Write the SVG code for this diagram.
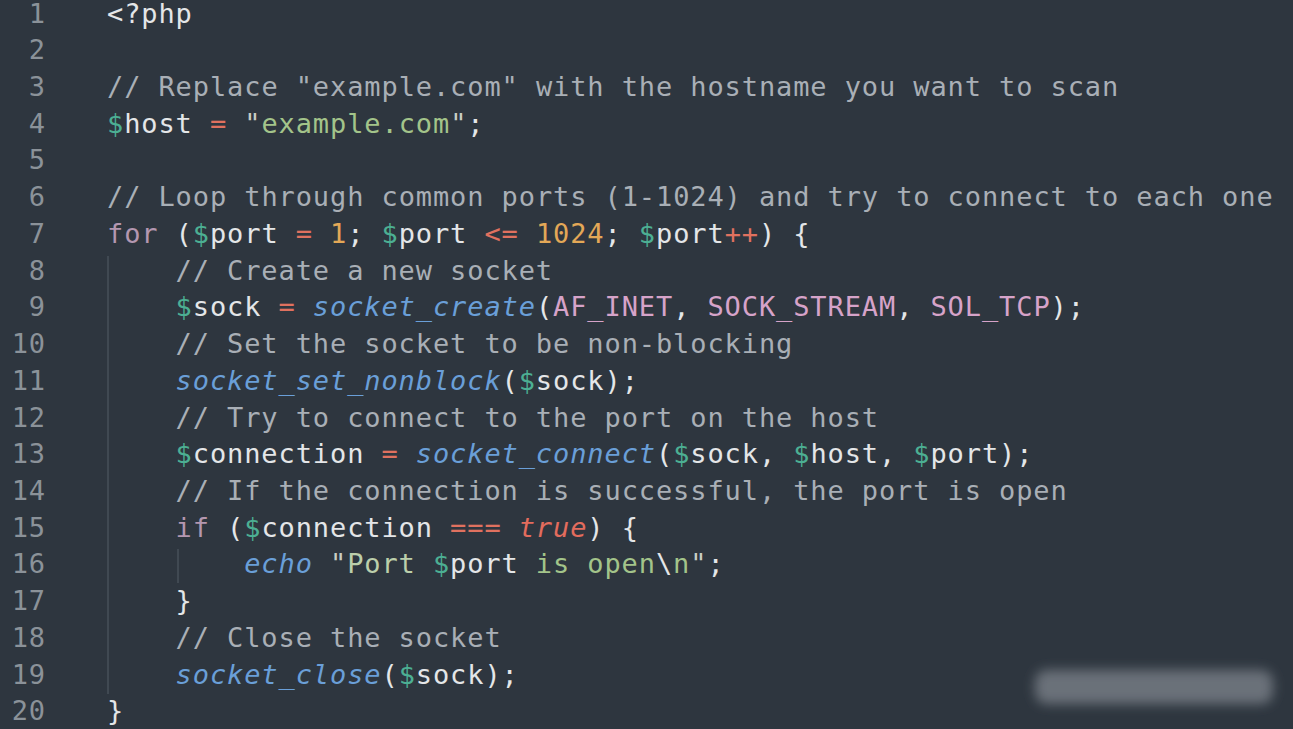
<svg xmlns="http://www.w3.org/2000/svg" width="1293" height="729" viewBox="0 0 1293 729">
<defs>
<style>
text{font-family:"DejaVu Sans Mono","Liberation Mono",monospace;font-size:27px;letter-spacing:0.9px;fill:#e4e6e8;white-space:pre}
.ln{fill:#8b9299;text-anchor:end}
.c{fill:#a9afb6}
.d{fill:#4caf93}
.o{fill:#e0715f}
.s{fill:#a3c48a}
.sl{fill:#bccfab}
.q{fill:#c8cdc4}
.n{fill:#e3a857}
.k{fill:#b497b0}
.f{fill:#6a9fd8;font-style:italic}
.k2{fill:#d6a3c9}
.t{fill:#e36c5d;font-style:italic}
.guide{stroke:#47505a;stroke-width:1.5}
</style>
<filter id="blur" x="-20%" y="-50%" width="140%" height="200%"><feGaussianBlur stdDeviation="6"/></filter>
</defs>
<rect width="1293" height="729" fill="#2e363f"/>
<g id="line-numbers">
<text class="ln" x="46" y="22.6">1</text>
<text class="ln" x="46" y="59.3">2</text>
<text class="ln" x="46" y="96">3</text>
<text class="ln" x="46" y="132.7">4</text>
<text class="ln" x="46" y="169.4">5</text>
<text class="ln" x="46" y="206.2">6</text>
<text class="ln" x="46" y="242.9">7</text>
<text class="ln" x="46" y="279.6">8</text>
<text class="ln" x="46" y="316.3">9</text>
<text class="ln" x="46" y="353">10</text>
<text class="ln" x="46" y="389.8">11</text>
<text class="ln" x="46" y="426.5">12</text>
<text class="ln" x="46" y="463.2">13</text>
<text class="ln" x="46" y="499.9">14</text>
<text class="ln" x="46" y="536.6">15</text>
<text class="ln" x="46" y="573.4">16</text>
<text class="ln" x="46" y="610.1">17</text>
<text class="ln" x="46" y="646.8">18</text>
<text class="ln" x="46" y="683.5">19</text>
<text class="ln" x="46" y="720.2">20</text>
</g>
<g id="indent-guides">
<line class="guide" x1="108" y1="256" x2="108" y2="694"/>
<line class="guide" x1="178" y1="549" x2="178" y2="583"/>
</g>
<g id="code">
<text x="107" y="22.6">&lt;?php</text>
<text class="c" x="107" y="96">// Replace "example.com" with the hostname you want to scan</text>
<text x="107" y="132.7"><tspan class="d">$</tspan>host <tspan class="o">=</tspan> <tspan class="q">"</tspan><tspan class="s">example.com</tspan><tspan class="q">"</tspan>;</text>
<text class="c" x="107" y="206.2">// Loop through common ports (1-1024) and try to connect to each one</text>
<text x="107" y="242.9"><tspan class="k">for</tspan> (<tspan class="d">$</tspan>port <tspan class="o">=</tspan> <tspan class="n">1</tspan>; <tspan class="d">$</tspan>port <tspan class="o">&lt;=</tspan> <tspan class="n">1024</tspan>; <tspan class="d">$</tspan>port<tspan class="o">++</tspan>) {</text>
<text class="c" x="175.6" y="279.6">// Create a new socket</text>
<text x="175.6" y="316.3"><tspan class="d">$</tspan>sock <tspan class="o">=</tspan> <tspan class="f">socket_create</tspan>(<tspan class="k2">AF_INET</tspan>, <tspan class="k2">SOCK_STREAM</tspan>, <tspan class="k2">SOL_TCP</tspan>);</text>
<text class="c" x="175.6" y="353">// Set the socket to be non-blocking</text>
<text x="175.6" y="389.8"><tspan class="f">socket_set_nonblock</tspan>(<tspan class="d">$</tspan>sock);</text>
<text class="c" x="175.6" y="426.5">// Try to connect to the port on the host</text>
<text x="175.6" y="463.2"><tspan class="d">$</tspan>connection <tspan class="o">=</tspan> <tspan class="f">socket_connect</tspan>(<tspan class="d">$</tspan>sock, <tspan class="d">$</tspan>host, <tspan class="d">$</tspan>port);</text>
<text class="c" x="175.6" y="499.9">// If the connection is successful, the port is open</text>
<text x="175.6" y="536.6"><tspan class="k">if</tspan> (<tspan class="d">$</tspan>connection <tspan class="o">===</tspan> <tspan class="t">true</tspan>) {</text>
<text x="244.2" y="573.4"><tspan class="f">echo</tspan> <tspan class="q">"</tspan><tspan class="sl">Port </tspan><tspan class="d">$</tspan>port<tspan class="s"> is open</tspan>\<tspan class="s">n</tspan><tspan class="q">"</tspan>;</text>
<text x="175.6" y="610.1">}</text>
<text class="c" x="175.6" y="646.8">// Close the socket</text>
<text x="175.6" y="683.5"><tspan class="f">socket_close</tspan>(<tspan class="d">$</tspan>sock);</text>
<text x="107" y="720.2">}</text>
</g>
<g id="watermark">
<rect x="1035" y="670" width="238" height="34" rx="12" fill="#6b7179" filter="url(#blur)"/>
</g>
</svg>
